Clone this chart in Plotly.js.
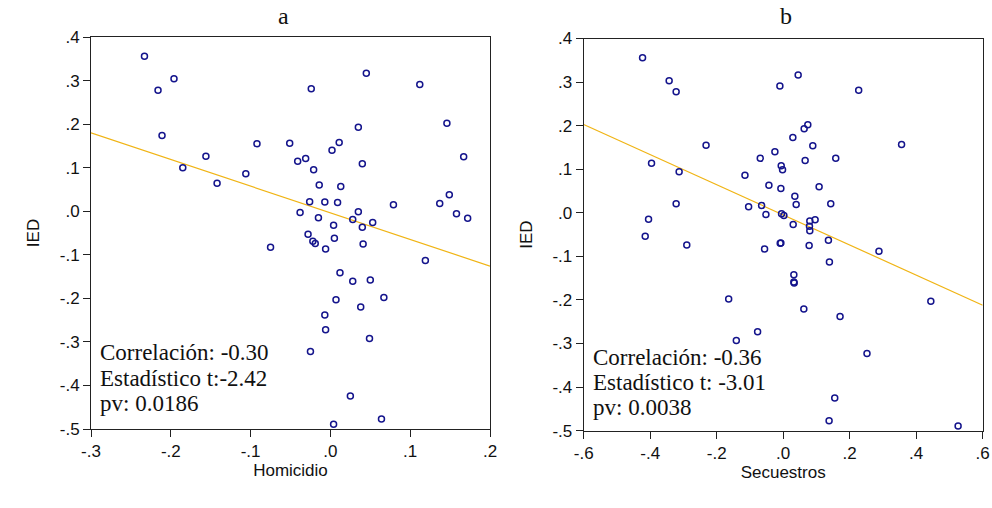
<!DOCTYPE html>
<html>
<head>
<meta charset="utf-8">
<script src="https://cdn.plot.ly/plotly-3.0.1.min.js"></script>
<style>html,body{margin:0;padding:0;background:#fff;}#chart{width:992px;height:508px;}</style>
</head>
<body>
<div id="chart"></div>
<script>
// Panel a: Homicidio vs IED
const homicidio = [-0.233,-0.196,-0.216,-0.211,-0.156,-0.185,-0.142,-0.106,-0.092,-0.051,
  -0.024,0.045,0.112,0.035,0.146,0.011,0.002,-0.041,-0.031,0.167,
  0.040,-0.021,-0.014,0.013,0.149,-0.026,-0.007,0.009,0.079,0.137,
  -0.038,0.035,-0.015,0.028,0.053,0.004,0.158,0.172,0.040,-0.028,
  -0.022,-0.019,0.005,0.041,-0.006,0.119,0.012,0.028,0.050,0.007,
  0.067,0.038,-0.007,-0.006,0.049,-0.025,0.025,0.064,0.004,-0.075];
const iedA = [0.356,0.304,0.278,0.174,0.126,0.100,0.064,0.086,0.155,0.156,
  0.281,0.317,0.291,0.193,0.202,0.158,0.140,0.115,0.121,0.125,
  0.109,0.095,0.060,0.057,0.038,0.022,0.021,0.020,0.015,0.018,
  -0.003,-0.001,-0.015,-0.019,-0.026,-0.032,-0.006,-0.016,-0.037,-0.053,
  -0.069,-0.074,-0.062,-0.075,-0.087,-0.113,-0.141,-0.161,-0.158,-0.203,
  -0.198,-0.220,-0.238,-0.272,-0.292,-0.322,-0.424,-0.477,-0.489,-0.083];

// Panel b: Secuestros vs IED
const secuestros = [-0.423,-0.343,-0.322,-0.010,-0.232,-0.025,-0.069,-0.396,-0.006,-0.002,
  -0.313,-0.115,-0.043,-0.007,-0.322,-0.104,-0.065,-0.052,-0.005,0.002,
  -0.405,0.045,0.227,0.074,0.063,0.029,0.356,0.089,0.158,0.066,
  0.108,0.035,0.039,0.143,0.030,0.080,0.096,0.079,0.080,-0.007,
  0.078,0.136,0.288,0.139,0.032,0.032,0.033,0.444,0.062,0.171,
  0.252,0.155,0.138,0.526,-0.415,-0.290,-0.056,-0.009,-0.164,-0.077,-0.141];
const iedB = [0.356,0.303,0.278,0.291,0.155,0.140,0.125,0.114,0.108,0.099,
  0.094,0.086,0.063,0.056,0.021,0.014,0.017,-0.004,-0.002,-0.006,
  -0.015,0.316,0.281,0.202,0.193,0.173,0.157,0.154,0.125,0.120,
  0.060,0.038,0.019,0.021,-0.027,-0.019,-0.016,-0.031,-0.041,-0.069,
  -0.075,-0.063,-0.088,-0.113,-0.142,-0.159,-0.161,-0.203,-0.221,-0.238,
  -0.323,-0.425,-0.477,-0.489,-0.054,-0.074,-0.083,-0.070,-0.198,-0.273,-0.293];

// Fitted regression lines (end points)
const fitAx = [-0.3, 0.2];
const fitAy = [0.180, -0.126];
const fitBx = [-0.6, 0.6];
const fitBy = [0.2025, -0.212];

// Tick labels
const yTickVals = [0.4,0.3,0.2,0.1,0.0,-0.1,-0.2,-0.3,-0.4,-0.5];
const yTickText = [".4",".3",".2",".1",".0","-.1","-.2","-.3","-.4","-.5"];
const xaTickVals = [-0.3,-0.2,-0.1,0.0,0.1,0.2];
const xaTickText = ["-.3","-.2","-.1",".0",".1",".2"];
const xbTickVals = [-0.6,-0.4,-0.2,0.0,0.2,0.4,0.6];
const xbTickText = ["-.6","-.4","-.2",".0",".2",".4",".6"];

const statsA = ["Correlación: -0.30","Estadístico t:-2.42","pv: 0.0186"];
const statsB = ["Correlación: -0.36","Estadístico t: -3.01","pv: 0.0038"];

const markerStyle = {symbol:'circle-open', size:6, color:'rgb(20,20,140)', line:{width:1.5, color:'rgb(20,20,140)'}};
const lineStyle = {color:'rgb(240,180,20)', width:1.2};

const traces = [
  {x:fitAx, y:fitAy, mode:'lines', line:lineStyle, xaxis:'x', yaxis:'y', hoverinfo:'skip'},
  {x:homicidio, y:iedA, mode:'markers', marker:markerStyle, xaxis:'x', yaxis:'y'},
  {x:fitBx, y:fitBy, mode:'lines', line:lineStyle, xaxis:'x2', yaxis:'y2', hoverinfo:'skip'},
  {x:secuestros, y:iedB, mode:'markers', marker:markerStyle, xaxis:'x2', yaxis:'y2'}
];

const tickFont = {family:'Liberation Sans, Arial, sans-serif', size:17, color:'#111'};
const titleFont = {family:'Liberation Sans, Arial, sans-serif', size:17, color:'#111'};
const axBase = {showline:true, mirror:true, linecolor:'#222', linewidth:1, ticks:'outside', ticklen:7,
  tickcolor:'#222', tickwidth:1, showgrid:false, zeroline:false, tickfont:tickFont, fixedrange:true};

function annots(lines, xpx, ys) {
  return lines.map((t,i)=>({text:t, xref:'paper', yref:'paper', x:xpx/992, y:1-ys[i]/508,
    xanchor:'left', yanchor:'middle', showarrow:false,
    font:{family:'Liberation Serif, Times New Roman, serif', size:23, color:'#111'}}));
}

const layout = {
  width:992, height:508, showlegend:false,
  paper_bgcolor:'#fff', plot_bgcolor:'#fff',
  margin:{l:0, r:0, t:0, b:0},
  xaxis: Object.assign({}, axBase, {domain:[91/992, 490/992], range:[-0.3,0.2], tickvals:xaTickVals, ticktext:xaTickText,
    anchor:'y', title:{text:'Homicidio', font:titleFont, standoff:2}}),
  yaxis: Object.assign({}, axBase, {domain:[1-429/508, 1-37/508], range:[-0.5,0.4], tickvals:yTickVals, ticktext:yTickText,
    anchor:'x', title:{text:'IED', font:titleFont, standoff:15}}),
  xaxis2: Object.assign({}, axBase, {domain:[583.7/992, 982.7/992], range:[-0.6,0.6], tickvals:xbTickVals, ticktext:xbTickText,
    anchor:'y2', title:{text:'Secuestros', font:titleFont, standoff:2}}),
  yaxis2: Object.assign({}, axBase, {domain:[1-430.7/508, 1-38.5/508], range:[-0.5,0.4], tickvals:yTickVals, ticktext:yTickText,
    anchor:'x2', title:{text:'IED', font:titleFont, standoff:15}}),
  annotations: [
    {text:'a', xref:'paper', yref:'paper', x:283/992, y:1-16/508, xanchor:'center', yanchor:'middle', showarrow:false,
      font:{family:'Liberation Serif, Times New Roman, serif', size:24, color:'#111'}},
    {text:'b', xref:'paper', yref:'paper', x:786/992, y:1-16/508, xanchor:'center', yanchor:'middle', showarrow:false,
      font:{family:'Liberation Serif, Times New Roman, serif', size:24, color:'#111'}}
  ].concat(annots(statsA, 98, [352,378,403])).concat(annots(statsB, 591, [357,382,407]))
};

Plotly.newPlot('chart', traces, layout, {staticPlot:true, displayModeBar:false});
</script>
</body>
</html>
